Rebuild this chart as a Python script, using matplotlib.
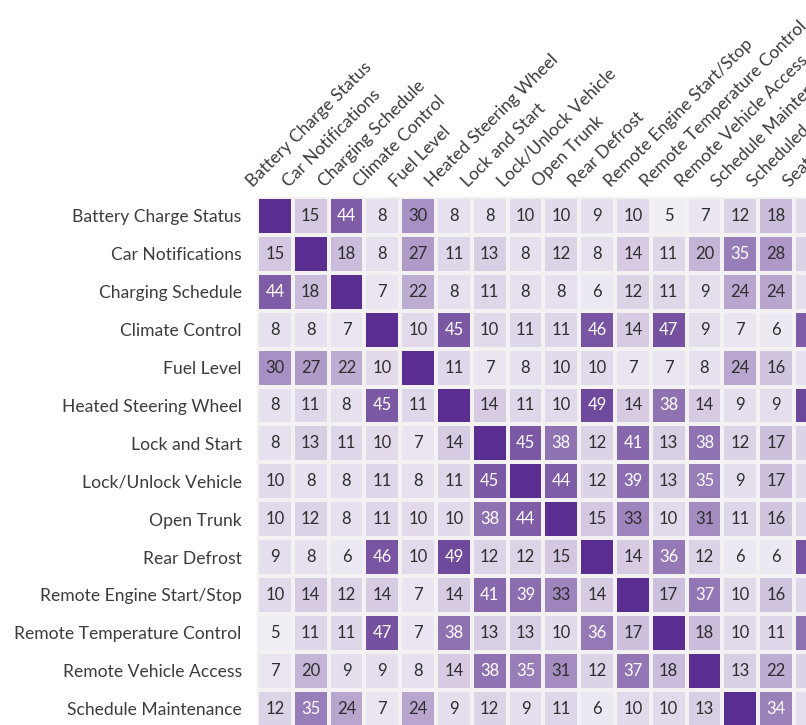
import numpy as np
import matplotlib
matplotlib.use("Agg")
import matplotlib.pyplot as plt
from matplotlib.colors import LinearSegmentedColormap
from matplotlib.transforms import ScaledTranslation

plt.rcParams['font.family'] = ['Lato', 'DejaVu Sans']

# features (columns run on past the right edge of the picture)
columnas = ["Battery Charge Status", "Car Notifications", "Charging Schedule",
            "Climate Control", "Fuel Level", "Heated Steering Wheel",
            "Lock and Start", "Lock/Unlock Vehicle", "Open Trunk", "Rear Defrost",
            "Remote Engine Start/Stop", "Remote Temperature Control",
            "Remote Vehicle Access", "Schedule Maintenance",
            "Scheduled Charging", "Seat Heating"]
filas = columnas[:14]

# co-usage counts, None = diagonal
conteos = [
    [None, 15, 44, 8, 30, 8, 8, 10, 10, 9, 10, 5, 7, 12, 18, 10],
    [15, None, 18, 8, 27, 11, 13, 8, 12, 8, 14, 11, 20, 35, 28, 12],
    [44, 18, None, 7, 22, 8, 11, 8, 8, 6, 12, 11, 9, 24, 24, 9],
    [8, 8, 7, None, 10, 45, 10, 11, 11, 46, 14, 47, 9, 7, 6, 44],
    [30, 27, 22, 10, None, 11, 7, 8, 10, 10, 7, 7, 8, 24, 16, 8],
    [8, 11, 8, 45, 11, None, 14, 11, 10, 49, 14, 38, 14, 9, 9, 50],
    [8, 13, 11, 10, 7, 14, None, 45, 38, 12, 41, 13, 38, 12, 17, 12],
    [10, 8, 8, 11, 8, 11, 45, None, 44, 12, 39, 13, 35, 9, 17, 10],
    [10, 12, 8, 11, 10, 10, 38, 44, None, 15, 33, 10, 31, 11, 16, 11],
    [9, 8, 6, 46, 10, 49, 12, 12, 15, None, 14, 36, 12, 6, 6, 46],
    [10, 14, 12, 14, 7, 14, 41, 39, 33, 14, None, 17, 37, 10, 16, 11],
    [5, 11, 11, 47, 7, 38, 13, 13, 10, 36, 17, None, 18, 10, 11, 38],
    [7, 20, 9, 9, 8, 14, 38, 35, 31, 12, 37, 18, None, 13, 22, 12],
    [12, 35, 24, 7, 24, 9, 12, 9, 11, 6, 10, 10, 13, None, 34, 9],
]

datos = np.array([[np.nan if v is None else v for v in fila] for fila in conteos], dtype=float)
nf, nc = datos.shape

cmap = LinearSegmentedColormap.from_list("morados", ["#f3f0f7", "#4f2186"])
cmap.set_bad("#5a2d91")

W, H = 806, 725
fig = plt.figure(figsize=(W / 100, H / 100), dpi=100)
fig.patch.set_facecolor("white")

cw, ch = 35.8, 37.9
x0, y0 = 257, 197
ax = fig.add_axes([x0 / W, (H - y0 - nf * ch) / H, nc * cw / W, nf * ch / H])

ax.pcolormesh(np.ma.masked_invalid(datos), cmap=cmap, vmin=4, vmax=60,
              edgecolors="#f3f1f1", linewidth=1.5)
ax.set_xlim(0, nc)
ax.set_ylim(nf, 0)
for s in ax.spines.values():
    s.set_visible(False)
ax.set_xticks([])
ax.set_yticks(np.arange(nf) + 0.5)
ax.set_yticklabels(filas, fontsize=12.6, color="#3c3c3c")
ax.tick_params(axis="y", length=0, pad=11)

# annotations (the last column's numbers fall outside the picture)
for i in range(nf):
    for j in range(nc):
        v = datos[i, j]
        if np.isnan(v) or x0 + (j + 0.5) * cw > W:
            continue
        color = "white" if v >= 34 else "#2e2e2e"
        ax.text(j + 0.5, i + 0.5, f"{int(v)}", ha="center", va="center",
                fontsize=12, color=color)

# rotated column labels above the grid
desplaz = ScaledTranslation(-22 / 100, 9 / 100, fig.dpi_scale_trans)
for j, nombre in enumerate(columnas):
    ax.text(j + 0.5, 0, nombre, rotation=45, rotation_mode="anchor",
            ha="left", va="baseline", fontsize=12.6, color="#3c3c3c",
            transform=ax.transData + desplaz, clip_on=False)

fig.savefig("out.png", dpi=100)
